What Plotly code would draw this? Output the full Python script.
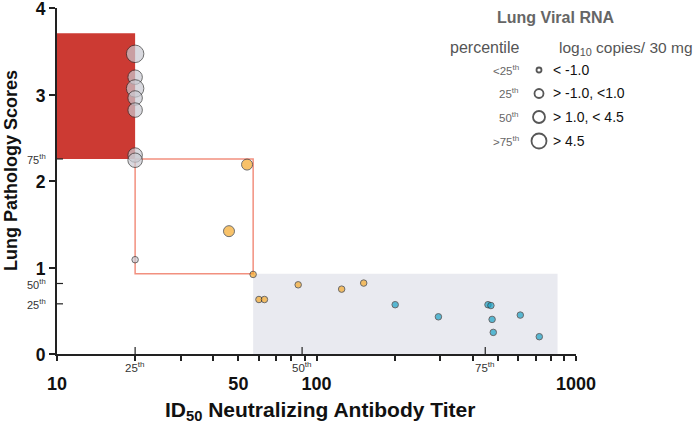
import math
import plotly.graph_objects as go

# ---------------- data ----------------
gray_titer = [20, 20, 20, 20, 20, 20, 20, 20]
gray_path = [3.47, 3.20, 3.07, 2.96, 2.82, 2.30, 2.24, 1.09]
gray_rna = [">75", "50", ">75", "50", "50", "50", "50", "<25"]

orange_titer = [54, 46, 57, 60, 63, 85, 125, 152]
orange_path = [2.19, 1.42, 0.92, 0.63, 0.63, 0.80, 0.75, 0.82]
orange_rna = ["25", "25", "<25", "<25", "<25", "<25", "<25", "<25"]

blue_titer = [201, 295, 458, 470, 475, 480, 610, 722]
blue_path = [0.57, 0.43, 0.57, 0.56, 0.40, 0.25, 0.45, 0.20]
blue_rna = ["<25", "<25", "<25", "<25", "<25", "<25", "<25", "<25"]

# percentiles (titer, pathology)
pct_labels = ["25", "50", "75"]
titer_pct = [20, 88, 447]
path_pct = [0.58, 0.815, 2.255]

# region boxes
red_box = dict(x=[10, 20], y=[2.255, 3.707])
salmon_box = dict(x=[20, 57], y=[0.927, 2.255])
grey_box = dict(x=[57, 849], y=[0, 0.927])

# legend content
rna_classes = ["<25", "25", "50", ">75"]
rna_pct_text = ["<25<sup>th</sup>", "25<sup>th</sup>", "50<sup>th</sup>", ">75<sup>th</sup>"]
rna_range_text = ["< -1.0", "> -1.0, <1.0", "> 1.0, < 4.5", "> 4.5"]

x_tickvals = [10, 20, 30, 40, 50, 60, 70, 80, 90, 100,
              200, 300, 400, 500, 600, 700, 800, 900, 1000]
x_ticklabels = {10: "10", 50: "50", 100: "100", 1000: "1000"}
y_tickvals = [0, 1, 2, 3, 4]

# ---------------- styling ----------------
size_map = {"<25": 6.5, "25": 11, "50": 14.5, ">75": 17.5}
legend_size_map = {"<25": 5, "25": 9, "50": 12, ">75": 15}
FONT = "Liberation Sans, Arial, sans-serif"

L, R, T, B = 57, 576, 8, 354
W, H = 700, 430


def pxx(x):
    return (x - L) / (R - L)


def pxy(y):
    return (B - y) / (B - T)


fig = go.Figure()


def add_group(xs, ys, cls, color):
    fig.add_trace(go.Scatter(
        x=xs, y=ys, mode="markers", showlegend=False, hoverinfo="skip",
        marker=dict(size=[size_map[c] for c in cls], color=color,
                    line=dict(color="#333333", width=1)),
    ))


add_group(gray_titer, gray_path, gray_rna, "#c9cad2")
add_group(orange_titer, orange_path, orange_rna, "#f6a92a")
add_group(blue_titer, blue_path, blue_rna, "#1aa2c6")

# legend markers on a pixel-mapped overlay axis
leg_x = 539
leg_rows_y = [70, 93.5, 117, 141]
fig.add_trace(go.Scatter(
    x=[leg_x] * 4, y=leg_rows_y, xaxis="x2", yaxis="y2", mode="markers",
    showlegend=False, hoverinfo="skip",
    marker=dict(size=[legend_size_map[c] for c in rna_classes], color="white",
                line=dict(color="#111111", width=1.8)),
))

shapes = []
shapes.append(dict(type="rect", xref="x", yref="y", x0=red_box["x"][0], x1=red_box["x"][1],
                   y0=red_box["y"][0], y1=red_box["y"][1], fillcolor="#cc3a33",
                   line=dict(width=0), layer="below"))
shapes.append(dict(type="rect", xref="x", yref="y", x0=grey_box["x"][0], x1=grey_box["x"][1],
                   y0=grey_box["y"][0], y1=grey_box["y"][1], fillcolor="#e9eaf0",
                   line=dict(width=0), layer="below"))
shapes.append(dict(type="rect", xref="x", yref="y", x0=salmon_box["x"][0], x1=salmon_box["x"][1],
                   y0=salmon_box["y"][0], y1=salmon_box["y"][1], fillcolor="rgba(0,0,0,0)",
                   line=dict(width=1.5, color="#f2907f"), layer="below"))

annotations = []
for lab, v in zip(pct_labels, titer_pct):
    shapes.append(dict(type="line", xref="x", yref="y", x0=v, x1=v,
                       ysizemode="pixel", yanchor=0, y0=-3, y1=7,
                       line=dict(color="#222222", width=1.2)))
    annotations.append(dict(xref="x", yref="paper", x=math.log10(v), y=pxy(367),
                            text=lab + "<sup>th</sup>", showarrow=False,
                            font=dict(family=FONT, size=11.5, color="#333333"),
                            xanchor="center", yanchor="middle"))
for lab, v in zip(pct_labels, path_pct):
    shapes.append(dict(type="line", xref="x", yref="y", y0=v, y1=v,
                       xsizemode="pixel", xanchor=10, x0=-7, x1=6,
                       line=dict(color="#222222", width=1.2)))
    annotations.append(dict(xref="paper", yref="y", x=pxx(48), y=v,
                            text=lab + "<sup>th</sup>", showarrow=False,
                            font=dict(family=FONT, size=11, color="#333333"),
                            xanchor="right", yanchor="middle"))

# axis titles
annotations.append(dict(xref="paper", yref="paper", x=pxx(320), y=pxy(411),
                        text="ID<sub>50</sub> Neutralizing Antibody Titer", showarrow=False,
                        font=dict(family=FONT, size=21, color="#111111", weight=700),
                        xanchor="center", yanchor="middle"))
annotations.append(dict(xref="paper", yref="paper", x=pxx(11), y=pxy(171),
                        text="Lung Pathology Scores", showarrow=False, textangle=-90,
                        font=dict(family=FONT, size=18, color="#111111", weight=700),
                        xanchor="center", yanchor="middle"))

# legend texts
annotations.append(dict(xref="paper", yref="paper", x=pxx(555), y=pxy(17),
                        text="Lung Viral RNA", showarrow=False,
                        font=dict(family=FONT, size=16, color="#666666", weight=700),
                        xanchor="center", yanchor="middle"))
annotations.append(dict(xref="paper", yref="paper", x=pxx(484), y=pxy(47),
                        text="percentile", showarrow=False,
                        font=dict(family=FONT, size=16, color="#555555"),
                        xanchor="center", yanchor="middle"))
annotations.append(dict(xref="paper", yref="paper", x=pxx(557), y=pxy(48),
                        text="log<sub>10</sub> copies/ 30 mg", showarrow=False,
                        font=dict(family=FONT, size=15.5, color="#555555"),
                        xanchor="left", yanchor="middle"))
for ptxt, rtxt, yy in zip(rna_pct_text, rna_range_text, leg_rows_y):
    annotations.append(dict(xref="paper", yref="paper", x=pxx(521), y=pxy(yy),
                            text=ptxt, showarrow=False,
                            font=dict(family=FONT, size=11.5, color="#666666"),
                            xanchor="right", yanchor="middle"))
    annotations.append(dict(xref="paper", yref="paper", x=pxx(551), y=pxy(yy),
                            text=rtxt, showarrow=False,
                            font=dict(family=FONT, size=14, color="#111111"),
                            xanchor="left", yanchor="middle"))

fig.update_layout(
    width=W, height=H,
    margin=dict(l=L, r=W - R, t=T, b=H - B, pad=0, autoexpand=False),
    plot_bgcolor="white", paper_bgcolor="white",
    shapes=shapes, annotations=annotations,
    xaxis=dict(type="log", range=[1, 3], showgrid=False, zeroline=False, automargin=False,
               showline=True, linecolor="#222222", linewidth=2,
               ticks="outside", ticklen=5, tickwidth=1.5, tickcolor="#222222",
               tickvals=x_tickvals,
               ticktext=[x_ticklabels.get(v, "") for v in x_tickvals],
               ticklabelstandoff=7, ticklabeloverflow="allow",
               tickfont=dict(family=FONT, size=18, color="#111111", weight=700)),
    yaxis=dict(range=[0, 4], showgrid=False, zeroline=False, automargin=False,
               showline=True, linecolor="#222222", linewidth=2,
               ticks="outside", ticklen=6, tickwidth=1.5, tickcolor="#222222",
               tickvals=y_tickvals, ticklabeloverflow="allow", ticklabelshift=1,
               tickfont=dict(family=FONT, size=17.5, color="#111111", weight=700)),
    xaxis2=dict(overlaying="x", anchor="y2", range=[L, R], visible=False, automargin=False),
    yaxis2=dict(overlaying="y", anchor="x2", range=[B, T], visible=False, automargin=False),
)

fig.write_html("out.html", config={"displayModeBar": False},
               post_script="document.body.style.margin='0';")
